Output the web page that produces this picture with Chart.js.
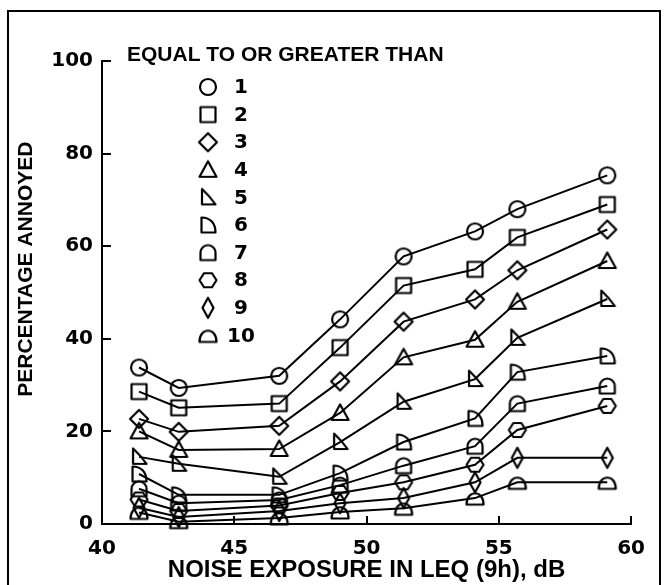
<!DOCTYPE html>
<html>
<head>
<meta charset="utf-8">
<script src="https://cdn.jsdelivr.net/npm/chart.js@4.4.1/dist/chart.umd.min.js"></script>
<style>
  html, body { margin: 0; padding: 0; background: #fff; }
  #wrap { position: relative; width: 666px; height: 585px; overflow: hidden; }
  #frame { position: absolute; left: 7px; top: 10px; width: 654px; height: 640px; border: 2px solid #000; box-sizing: border-box; }
  #chartNoise { position: absolute; left: 0; top: 0; }
</style>
</head>
<body>
<div id="wrap">
  <div id="frame"></div>
  <canvas id="chartNoise" width="666" height="585" style="width:666px;height:585px"></canvas>
</div>
<script>
// Leq (9h) in dB, one value per survey point
const exposure = [41.4, 42.9, 46.7, 49.0, 51.4, 54.1, 55.7, 59.1];

// percentage annoyed, "equal to or greater than" score 1..10
const annoyed1  = [33.8, 29.4, 32.0, 44.2, 57.8, 63.2, 68.0, 75.3];
const annoyed2  = [28.6, 25.1, 26.0, 38.1, 51.5, 55.0, 61.9, 69.0];
const annoyed3  = [22.7, 19.9, 21.2, 30.8, 43.7, 48.5, 54.8, 63.6];
const annoyed4  = [20.0, 16.0, 16.2, 24.0, 36.0, 39.8, 48.0, 56.8];
const annoyed5  = [14.5, 13.0, 10.2, 17.7, 26.4, 31.3, 40.2, 48.6];
const annoyed6  = [10.8, 6.3, 6.3, 11.0, 17.7, 22.8, 32.8, 36.3];
const annoyed7  = [7.6, 4.5, 5.2, 8.4, 12.6, 16.8, 26.0, 29.8];
const annoyed8  = [5.3, 2.8, 4.0, 6.7, 9.0, 12.8, 20.3, 25.5];
const annoyed9  = [3.5, 1.5, 2.8, 4.5, 5.6, 9.0, 14.3, 14.3];
const annoyed10 = [2.5, 0.5, 1.3, 2.6, 3.4, 5.6, 9.0, 9.0];

const seriesLabels = ['1', '2', '3', '4', '5', '6', '7', '8', '9', '10'];
const allSeries = [annoyed1, annoyed2, annoyed3, annoyed4, annoyed5,
                   annoyed6, annoyed7, annoyed8, annoyed9, annoyed10];
const markerKinds = ['circle', 'square', 'diamond', 'triangle', 'halftri',
                     'dee', 'arch', 'hexagon', 'narrow', 'dome'];

const xTicks = [40, 45, 50, 55, 60];
const yTicks = [0, 20, 40, 60, 80, 100];

const legendTitle = 'EQUAL TO OR GREATER THAN';
const FONT = '"Liberation Sans", Arial, Helvetica, sans-serif';
const DIGITS = '"DejaVu Sans", Verdana, sans-serif';

/**
 * makeMarker: hollow marker drawn into a small canvas, used as pointStyle
 */
function makeMarker(kind) {
  const c = document.createElement('canvas');
  c.width = 26; c.height = 26;
  const g = c.getContext('2d');
  g.translate(13, 13);
  g.lineWidth = 2.2;
  g.strokeStyle = '#000';
  g.lineJoin = 'round';
  g.beginPath();
  switch (kind) {
    case 'circle':
      g.arc(0, 0, 8, 0, Math.PI * 2);
      break;
    case 'square':
      g.rect(-7.5, -7.5, 15, 15);
      break;
    case 'diamond':
      g.moveTo(0, -9); g.lineTo(9, 0); g.lineTo(0, 9); g.lineTo(-9, 0); g.closePath();
      break;
    case 'triangle':
      g.moveTo(0, -8.5); g.lineTo(8.5, 7); g.lineTo(-8.5, 7); g.closePath();
      break;
    case 'halftri':
      g.moveTo(-6, -8.5); g.quadraticCurveTo(2, -1, 7.5, 7); g.lineTo(-6, 7); g.closePath();
      break;
    case 'dee':
      g.moveTo(-6.5, 7.5); g.lineTo(-6.5, -7.5); g.bezierCurveTo(3, -7.5, 7.5, -1, 7.5, 7.5); g.closePath();
      break;
    case 'arch':
      g.moveTo(-7.5, 7.5); g.lineTo(-7.5, 0); g.arc(0, 0, 7.5, Math.PI, 0); g.lineTo(7.5, 7.5); g.closePath();
      break;
    case 'hexagon':
      g.moveTo(-8.5, 0); g.lineTo(-4, -7); g.lineTo(4, -7); g.lineTo(8.5, 0);
      g.lineTo(4, 7); g.lineTo(-4, 7); g.closePath();
      break;
    case 'narrow':
      g.moveTo(0, -10); g.lineTo(5.5, 0); g.lineTo(0, 10); g.lineTo(-5.5, 0); g.closePath();
      break;
    case 'dome':
      g.moveTo(-8.5, 6.5); g.bezierCurveTo(-8.5, -8.5, 8.5, -8.5, 8.5, 6.5); g.closePath();
      break;
  }
  g.stroke();
  return c;
}

/**
 * noiseLegend: legend block inside the plot, title plus marker column
 */
const noiseLegend = {
  id: 'noiseLegend',
  afterDraw(chart) {
    const ctx = chart.ctx;
    ctx.save();
    ctx.fillStyle = '#000';
    ctx.textBaseline = 'middle';
    ctx.font = 'bold 21px ' + FONT;
    ctx.textAlign = 'left';
    ctx.fillText(legendTitle, 127, 55);
    ctx.font = 'bold 20px ' + DIGITS;
    ctx.textAlign = 'center';
    chart.data.datasets.forEach((ds, i) => {
      const y = 87 + i * 27.6;
      const img = ds.pointStyle;
      ctx.drawImage(img, 208 - img.width / 2, y - img.height / 2);
      ctx.fillText(ds.label, 241, y + 1);
    });
    ctx.restore();
  }
};

function initChart() {
  const ctx = document.getElementById('chartNoise').getContext('2d');
  const datasets = allSeries.map((vals, i) => ({
    label: seriesLabels[i],
    data: vals.map((v, j) => ({ x: exposure[j], y: v })),
    showLine: true,
    borderColor: '#000',
    borderWidth: 2,
    pointStyle: makeMarker(markerKinds[i]),
    pointRadius: 8,
    clip: false
  }));

  const tickFont = { family: DIGITS, size: 20, weight: 'bold' };

  return new Chart(ctx, {
    type: 'scatter',
    data: { datasets: datasets },
    options: {
      responsive: false,
      animation: false,
      layout: { padding: { left: 0, top: 61, right: 24, bottom: 0 } },
      plugins: {
        legend: { display: false },
        tooltip: { enabled: false }
      },
      scales: {
        x: {
          type: 'linear',
          min: 40,
          max: 60,
          afterBuildTicks: (scale) => { scale.ticks = xTicks.map(v => ({ value: v })); },
          afterFit: (scale) => { scale.height = 61; },
          ticks: { color: '#000', font: tickFont, padding: 21, maxRotation: 0 },
          grid: { drawOnChartArea: false, drawTicks: true, tickLength: -8, color: '#000', lineWidth: 2 },
          border: { display: true, color: '#000', width: 2 },
          title: {
            display: true,
            text: 'NOISE EXPOSURE IN LEQ (9h), dB',
            color: '#000',
            font: { family: FONT, size: 24, weight: 'bold' },
            padding: 0
          }
        },
        y: {
          min: 0,
          max: 100,
          afterBuildTicks: (scale) => { scale.ticks = yTicks.map(v => ({ value: v })); },
          afterFit: (scale) => { scale.width = 102; },
          ticks: { color: '#000', font: tickFont, padding: 18 },
          grid: { drawOnChartArea: false, drawTicks: true, tickLength: -9, color: '#000', lineWidth: 2 },
          border: { display: true, color: '#000', width: 2 },
          title: {
            display: true,
            // leading spaces lift the rotated title a little above the axis centre
            text: '        PERCENTAGE ANNOYED',
            color: '#000',
            font: { family: FONT, size: 21, weight: 'bold' },
            padding: { top: 14, bottom: 0 }
          }
        }
      }
    },
    plugins: [noiseLegend]
  });
}

initChart();
</script>
</body>
</html>
